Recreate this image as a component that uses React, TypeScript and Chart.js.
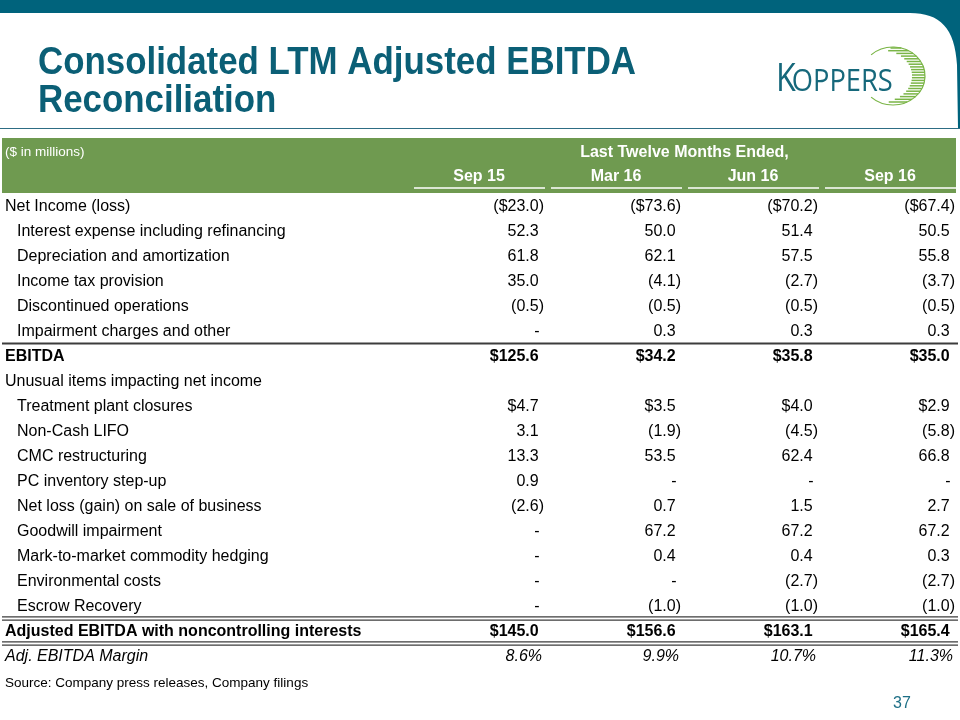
import React, { useEffect, useRef } from 'react';
import { Chart, registerables } from 'chart.js';

Chart.register(...registerables);

const titleLines = ['Consolidated LTM Adjusted EBITDA', 'Reconciliation'];
const unitsLabel = '($ in millions)';
const periodHeader = 'Last Twelve Months Ended,';
const columnLabels = ['Sep 15', 'Mar 16', 'Jun 16', 'Sep 16'];
const sourceNote = 'Source: Company press releases, Company filings';
const pageNumber = '37';

const rowLabels = [
  'Net Income (loss)',
  'Interest expense including refinancing',
  'Depreciation and amortization',
  'Income tax provision',
  'Discontinued operations',
  'Impairment charges and other',
  'EBITDA',
  'Unusual items impacting net income',
  'Treatment plant closures',
  'Non-Cash LIFO',
  'CMC restructuring',
  'PC inventory step-up',
  'Net loss (gain) on sale of business',
  'Goodwill impairment',
  'Mark-to-market commodity hedging',
  'Environmental costs',
  'Escrow Recovery',
  'Adjusted EBITDA with noncontrolling interests',
  'Adj. EBITDA Margin',
];

// null = "-" (nil)
const sep15 = [-23.0, 52.3, 61.8, 35.0, -0.5, null, 125.6, null, 4.7, 3.1, 13.3, 0.9, -2.6, null, null, null, null, 145.0, 8.6];
const mar16 = [-73.6, 50.0, 62.1, -4.1, -0.5, 0.3, 34.2, null, 3.5, -1.9, 53.5, null, 0.7, 67.2, 0.4, null, -1.0, 156.6, 9.9];
const jun16 = [-70.2, 51.4, 57.5, -2.7, -0.5, 0.3, 35.8, null, 4.0, -4.5, 62.4, null, 1.5, 67.2, 0.4, -2.7, -1.0, 163.1, 10.7];
const sep16 = [-67.4, 50.5, 55.8, -3.7, -0.5, 0.3, 35.0, null, 2.9, -5.8, 66.8, null, 2.7, 67.2, 0.3, -2.7, -1.0, 165.4, 11.3];

const columns = [sep15, mar16, jun16, sep16];

// row kinds: top, item, total, section, pct
const rowKinds = ['top', 'item', 'item', 'item', 'item', 'item', 'total', 'section', 'item', 'item', 'item', 'item', 'item', 'item', 'item', 'item', 'item', 'total', 'pct'];
const dollarRows = [0, 6, 8, 17];

const FONT = '"Liberation Sans", Arial, Helvetica, sans-serif';
const TEAL = '#00637c';
const TITLE = '#0b5f76';
const GREEN = '#6f9a50';
const RULE = '#3c3c3c';

function fmt(v: number | null, dollar: boolean, pct: boolean): string {
  if (v === null) return '-';
  if (pct) return v.toFixed(1) + '%';
  const s = (dollar ? '$' : '') + Math.abs(v).toFixed(1);
  return v < 0 ? '(' + s + ')' : s;
}

function rowFont(kind: string): string {
  if (kind === 'total') return 'bold 16px ' + FONT;
  if (kind === 'pct') return 'italic 16px ' + FONT;
  return '16px ' + FONT;
}

const slidePlugin = {
  id: 'slide',
  beforeDraw(chart: any) {
    const ctx = chart.ctx as CanvasRenderingContext2D;
    const W = chart.width;
    const xs = chart.scales.x;
    const ys = chart.scales.y;
    ctx.save();
    ctx.fillStyle = '#ffffff';
    ctx.fillRect(0, 0, W, chart.height);

    // top bar with rounded corner at right
    ctx.fillStyle = TEAL;
    ctx.fillRect(0, 0, W, 13);
    ctx.beginPath();
    ctx.moveTo(890, 0);
    ctx.lineTo(890, 13);
    ctx.lineTo(910, 13);
    ctx.bezierCurveTo(940, 13, 955, 28, 957, 65);
    ctx.lineTo(958, 128);
    ctx.lineTo(W, 128);
    ctx.lineTo(W, 0);
    ctx.closePath();
    ctx.fill();

    // title
    ctx.fillStyle = TITLE;
    ctx.textBaseline = 'alphabetic';
    ctx.textAlign = 'left';
    ctx.font = 'bold 39px "Liberation Sans Narrow", "Liberation Sans", Arial, sans-serif';
    const tw = ctx.measureText(titleLines[0]).width;
    const sx = 598 / tw;
    ctx.save();
    ctx.translate(38, 0);
    ctx.scale(sx, 1);
    ctx.fillText(titleLines[0], 0, 74);
    ctx.fillText(titleLines[1], 0, 112);
    ctx.restore();

    // logo
    ctx.fillStyle = '#16687b';
    ctx.font = '38px "Open Sans", "Liberation Sans", sans-serif';
    const kw = ctx.measureText('K').width;
    ctx.save();
    ctx.translate(776, 0);
    ctx.scale(0.85, 1);
    ctx.fillText('K', 0, 91);
    ctx.restore();
    ctx.font = '31px "Open Sans", "Liberation Sans", sans-serif';
    const ow = ctx.measureText('OPPERS').width;
    ctx.save();
    ctx.translate(776 + kw * 0.85 - 4, 0);
    ctx.scale(101 / ow, 1);
    ctx.fillText('OPPERS', 0, 91);
    ctx.restore();
    // green crescent of stripes
    const ocx = 893, ocy = 76, orx = 32, ory = 29;
    const icx = 881, icy = 76, irx = 31, iry = 26;
    ctx.strokeStyle = '#7ab546';
    ctx.lineWidth = 1.5;
    for (let y = ocy - ory + 1; y <= ocy + ory - 1; y += 2.7) {
      const dy = (y - ocy) / ory;
      const xo = ocx + orx * Math.sqrt(Math.max(0, 1 - dy * dy));
      const di = (y - icy) / iry;
      let xi = icx;
      if (Math.abs(di) < 1) xi = icx + irx * Math.sqrt(1 - di * di);
      else xi = ocx - orx * Math.sqrt(Math.max(0, 1 - dy * dy)) * 0.3;
      if (xo > xi) {
        ctx.beginPath();
        ctx.moveTo(xi, y);
        ctx.lineTo(xo, y);
        ctx.stroke();
      }
    }
    ctx.lineWidth = 1.2;
    ctx.beginPath();
    ctx.ellipse(ocx, ocy, orx, ory, 0, -Math.PI * 0.74, Math.PI * 0.74);
    ctx.stroke();

    // title underline
    ctx.strokeStyle = '#2d6d84';
    ctx.lineWidth = 1;
    ctx.beginPath();
    ctx.moveTo(0, 128.5);
    ctx.lineTo(W, 128.5);
    ctx.stroke();

    // header box
    ctx.fillStyle = GREEN;
    ctx.fillRect(2, 138, 954, 55);
    ctx.fillStyle = '#ffffff';
    ctx.textBaseline = 'middle';
    ctx.font = '13.5px ' + FONT;
    ctx.textAlign = 'left';
    ctx.fillText(unitsLabel, 5, ys.getPixelForValue(-2.15));

    const segW = 130;
    const firstLeft = xs.getPixelForValue(0) - segW;
    const lastRight = xs.getPixelForValue(columnLabels.length - 1);
    ctx.font = 'bold 16px ' + FONT;
    ctx.textAlign = 'center';
    ctx.fillText(periodHeader, (firstLeft + lastRight) / 2, ys.getPixelForValue(-2.15));
    ctx.strokeStyle = '#ffffff';
    ctx.lineWidth = 1.5;
    columnLabels.forEach((lab, i) => {
      const r = xs.getPixelForValue(i);
      ctx.fillText(lab, r - segW / 2, ys.getPixelForValue(-1.16));
      const uy = ys.getPixelForValue(-0.72);
      ctx.beginPath();
      ctx.moveTo(r - segW, uy);
      ctx.lineTo(r + 1, uy);
      ctx.stroke();
    });
    ctx.restore();
  },
  afterDatasetsDraw(chart: any) {
    const ctx = chart.ctx as CanvasRenderingContext2D;
    const ys = chart.scales.y;
    ctx.save();
    ctx.fillStyle = '#000000';
    ctx.textBaseline = 'middle';

    // row labels
    rowLabels.forEach((lab, i) => {
      const kind = rowKinds[i];
      ctx.font = rowFont(kind);
      ctx.textAlign = 'left';
      const x = kind === 'item' ? 17 : 5;
      ctx.fillText(lab, x, ys.getPixelForValue(i) + 0.5);
    });

    // cells
    chart.data.datasets.forEach((ds: any, di: number) => {
      const meta = chart.getDatasetMeta(di);
      meta.data.forEach((el: any, j: number) => {
        const ri = ds.data[j].y;
        const kind = rowKinds[ri];
        const v = columns[di][ri];
        const isPct = kind === 'pct';
        const txt = fmt(v, dollarRows.includes(ri), isPct);
        ctx.font = rowFont(kind);
        ctx.textAlign = 'right';
        const parenW = ctx.measureText(')').width;
        let x = el.x;
        if (isPct) x = el.x - 2;
        else if (v === null) x = el.x - parenW + 1;
        else if (v >= 0) x = el.x - parenW;
        ctx.fillText(txt, x, el.y + 0.5);
      });
    });

    // rules
    const x0 = 2, x1 = 958;
    ctx.strokeStyle = RULE;
    ctx.lineWidth = 2;
    let y = ys.getPixelForValue(5.5);
    ctx.beginPath(); ctx.moveTo(x0, y); ctx.lineTo(x1, y); ctx.stroke();
    ctx.lineWidth = 1.3;
    [16.5, 17.5].forEach((r) => {
      const yc = ys.getPixelForValue(r);
      [-1.6, 1.6].forEach((d) => {
        ctx.beginPath(); ctx.moveTo(x0, yc + d); ctx.lineTo(x1, yc + d); ctx.stroke();
      });
    });

    // source & page number
    ctx.font = '13.5px ' + FONT;
    ctx.textAlign = 'left';
    ctx.fillText(sourceNote, 5, ys.getPixelForValue(19.08));
    ctx.fillStyle = '#1d6f86';
    ctx.font = '16px ' + FONT;
    ctx.fillText(pageNumber, 893, ys.getPixelForValue(19.9));
    ctx.restore();
  },
};

export default function App() {
  const ref = useRef<HTMLCanvasElement | null>(null);
  useEffect(() => {
    if (!ref.current) return;
    const datasets = columns.map((col, ci) => ({
      label: columnLabels[ci],
      data: col
        .map((_, ri) => ({ x: ci, y: ri }))
        .filter((p) => rowKinds[p.y] !== 'section'),
      pointRadius: 0,
      pointHoverRadius: 0,
      showLine: false,
    }));
    const chart = new Chart(ref.current, {
      type: 'scatter',
      data: { datasets },
      options: {
        animation: false,
        responsive: false,
        devicePixelRatio: 1,
        events: [],
        layout: { padding: { left: 544, right: 5, top: 206, bottom: 720 - 656 } },
        plugins: { legend: { display: false }, tooltip: { enabled: false } },
        scales: {
          x: { type: 'linear', min: 0, max: 3, display: false },
          y: { type: 'linear', min: 0, max: 18, reverse: true, display: false },
        },
      },
      plugins: [slidePlugin],
    } as any);
    return () => chart.destroy();
  }, []);
  return (
    <div style={{ position: 'absolute', left: 0, top: 0, width: 960, height: 720 }}>
      <canvas ref={ref} width={960} height={720} style={{ display: 'block' }} />
    </div>
  );
}
